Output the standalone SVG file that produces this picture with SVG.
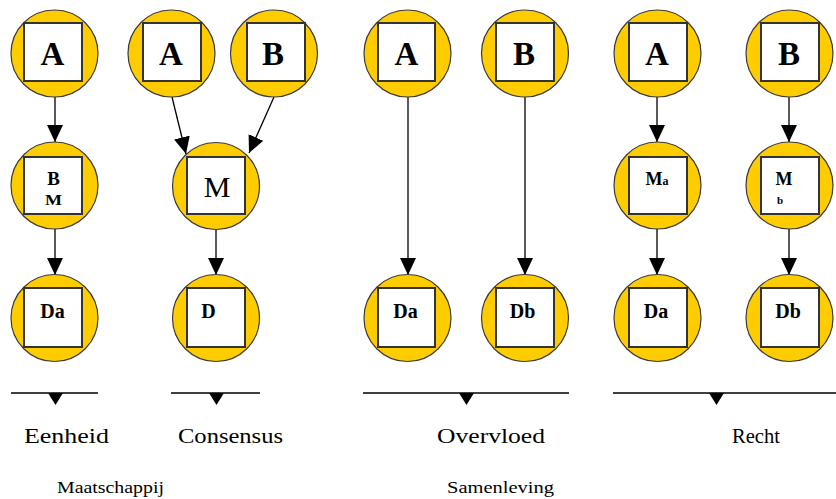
<svg xmlns="http://www.w3.org/2000/svg" width="836" height="499" viewBox="0 0 836 499">
  <style>
    .disc { fill: #FFCC00; stroke: #3a3a3a; stroke-width: 1.2; }
    .box { fill: #ffffff; stroke: #333333; stroke-width: 2; }
    .lbl { font-family: 'Liberation Serif', 'DejaVu Serif', serif; fill: #000; text-anchor: middle; }
    .b { font-weight: bold; }
    .edge { stroke: #000; stroke-width: 1.3; fill: none; marker-end: url(#head); }
    .bar { stroke: #000; stroke-width: 1.5; }
    .tick { fill: #000; }
    .cap { font-family: 'Liberation Serif', 'DejaVu Serif', serif; font-size: 21px; fill: #000; }
    .sub { font-family: 'Liberation Serif', 'DejaVu Serif', serif; font-size: 17px; fill: #000; }
  </style>
  <defs>
    <marker id="head" markerUnits="userSpaceOnUse" markerWidth="17" markerHeight="16" refX="17" refY="8" orient="auto">
      <path d="M0,0 L17,8 L0,16 Z" fill="#000"/>
    </marker>
  </defs>
  <rect width="836" height="499" fill="#ffffff"/>

  <!-- connectors -->
  <g id="connectors">
    <line class="edge" x1="55" y1="97" x2="55" y2="142"/>
    <line class="edge" x1="55" y1="229" x2="55" y2="275"/>
    <line class="edge" x1="172" y1="97" x2="186" y2="154"/>
    <line class="edge" x1="274" y1="97" x2="249" y2="153"/>
    <line class="edge" x1="216" y1="229" x2="216" y2="275"/>
    <line class="edge" x1="408" y1="97" x2="408" y2="275"/>
    <line class="edge" x1="525" y1="97" x2="525" y2="275"/>
    <line class="edge" x1="657" y1="97" x2="657" y2="142"/>
    <line class="edge" x1="657" y1="229" x2="657" y2="275"/>
    <line class="edge" x1="789" y1="97" x2="789" y2="142"/>
    <line class="edge" x1="789" y1="229" x2="789" y2="275"/>
  </g>

  <!-- Eenheid column -->
  <g id="eenheid-a">
    <circle class="disc" cx="54.5" cy="53.5" r="43.5"/>
    <rect class="box" x="24" y="23" width="58" height="58"/>
    <text class="lbl b" x="52.5" y="65" font-size="33">A</text>
  </g>
  <g id="eenheid-bm">
    <circle class="disc" cx="54.5" cy="185.5" r="43.5"/>
    <rect class="box" x="24" y="157" width="58" height="57"/>
    <text class="lbl b" x="53.5" y="185" font-size="19">B</text>
    <text class="lbl b" x="53.5" y="205" font-size="14" textLength="17" lengthAdjust="spacingAndGlyphs">M</text>
  </g>
  <g id="eenheid-da">
    <circle class="disc" cx="54.5" cy="318" r="43.5"/>
    <rect class="box" x="24" y="288" width="58" height="59"/>
    <text class="lbl b" x="52.5" y="318" font-size="20">Da</text>
  </g>

  <!-- Consensus column -->
  <g id="consensus-a">
    <circle class="disc" cx="171.5" cy="53.5" r="43.5"/>
    <rect class="box" x="143" y="23" width="58" height="58"/>
    <text class="lbl b" x="171" y="65" font-size="33">A</text>
  </g>
  <g id="consensus-b">
    <circle class="disc" cx="274" cy="53.5" r="43.5"/>
    <rect class="box" x="247" y="23" width="58" height="58"/>
    <text class="lbl b" x="273" y="65" font-size="33">B</text>
  </g>
  <g id="consensus-m">
    <circle class="disc" cx="216" cy="186" r="43.5"/>
    <rect class="box" x="187" y="157" width="58" height="57"/>
    <text class="lbl" x="217" y="197" font-size="30">M</text>
  </g>
  <g id="consensus-d">
    <circle class="disc" cx="216" cy="318" r="43.5"/>
    <rect class="box" x="187" y="288" width="58" height="59"/>
    <text class="lbl b" x="208.5" y="318" font-size="20">D</text>
  </g>

  <!-- Overvloed column -->
  <g id="overvloed-a">
    <circle class="disc" cx="407.5" cy="53.5" r="43.5"/>
    <rect class="box" x="378" y="23" width="57" height="58"/>
    <text class="lbl b" x="406.5" y="65" font-size="33">A</text>
  </g>
  <g id="overvloed-b">
    <circle class="disc" cx="525" cy="53.5" r="43.5"/>
    <rect class="box" x="496" y="23" width="58" height="58"/>
    <text class="lbl b" x="524" y="65" font-size="33">B</text>
  </g>
  <g id="overvloed-da">
    <circle class="disc" cx="407.5" cy="318" r="43.5"/>
    <rect class="box" x="378" y="288" width="57" height="59"/>
    <text class="lbl b" x="405.5" y="318" font-size="20">Da</text>
  </g>
  <g id="overvloed-db">
    <circle class="disc" cx="525" cy="318" r="43.5"/>
    <rect class="box" x="496" y="288" width="58" height="59"/>
    <text class="lbl b" x="522.5" y="318" font-size="20">Db</text>
  </g>

  <!-- Recht column -->
  <g id="recht-a">
    <circle class="disc" cx="657.5" cy="53.5" r="43.5"/>
    <rect class="box" x="629" y="23" width="58" height="58"/>
    <text class="lbl b" x="657" y="65" font-size="33">A</text>
  </g>
  <g id="recht-b">
    <circle class="disc" cx="789.5" cy="53.5" r="43.5"/>
    <rect class="box" x="761" y="23" width="58" height="58"/>
    <text class="lbl b" x="789" y="65" font-size="33">B</text>
  </g>
  <g id="recht-ma">
    <circle class="disc" cx="657.5" cy="185.5" r="43.5"/>
    <rect class="box" x="629" y="157" width="58" height="57"/>
    <text class="lbl b" x="657" y="185" font-size="18">M<tspan font-size="12">a</tspan></text>
  </g>
  <g id="recht-mb">
    <circle class="disc" cx="789.5" cy="185.5" r="43.5"/>
    <rect class="box" x="761" y="157" width="58" height="57"/>
    <text class="lbl b" x="784" y="185" font-size="18">M</text>
    <text class="lbl b" x="780" y="204" font-size="11">b</text>
  </g>
  <g id="recht-da">
    <circle class="disc" cx="657.5" cy="318" r="43.5"/>
    <rect class="box" x="629" y="288" width="58" height="59"/>
    <text class="lbl b" x="656" y="318" font-size="20">Da</text>
  </g>
  <g id="recht-db">
    <circle class="disc" cx="789.5" cy="318" r="43.5"/>
    <rect class="box" x="761" y="288" width="58" height="59"/>
    <text class="lbl b" x="788" y="318" font-size="20">Db</text>
  </g>

  <!-- column base bars with pointers -->
  <g id="bases">
    <line class="bar" x1="11" y1="393" x2="98" y2="393"/>
    <path class="tick" d="M48,393 L63,393 L55.5,405 Z"/>
    <line class="bar" x1="171" y1="393" x2="260" y2="393"/>
    <path class="tick" d="M209,393 L224,393 L216.5,405 Z"/>
    <line class="bar" x1="363" y1="393" x2="569" y2="393"/>
    <path class="tick" d="M459,393 L474,393 L466.5,405 Z"/>
    <line class="bar" x1="613" y1="393" x2="836" y2="393"/>
    <path class="tick" d="M709,393 L724,393 L716.5,405 Z"/>
  </g>

  <!-- captions -->
  <g id="captions">
    <text class="cap" x="24" y="443" textLength="85" lengthAdjust="spacingAndGlyphs">Eenheid</text>
    <text class="cap" x="178" y="443" textLength="105" lengthAdjust="spacingAndGlyphs">Consensus</text>
    <text class="cap" x="437" y="443" textLength="108" lengthAdjust="spacingAndGlyphs">Overvloed</text>
    <text class="cap" x="732" y="443" textLength="48" lengthAdjust="spacingAndGlyphs">Recht</text>
    <text class="sub" x="57" y="493" textLength="107" lengthAdjust="spacingAndGlyphs">Maatschappij</text>
    <text class="sub" x="447" y="493" textLength="107" lengthAdjust="spacingAndGlyphs">Samenleving</text>
  </g>
</svg>
